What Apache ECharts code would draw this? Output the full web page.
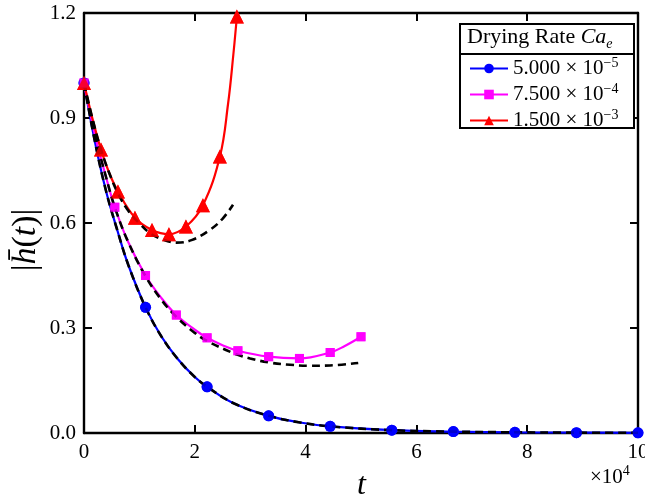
<!DOCTYPE html>
<html>
<head>
<meta charset="utf-8">
<script src="https://cdn.jsdelivr.net/npm/echarts@6/dist/echarts.min.js"></script>
<style>html,body{margin:0;padding:0;background:#fff}#c{width:645px;height:500px}</style>
</head>
<body>
<div id="c"></div>
<script>
// t in units of 10^4
const seriesNames = ['5.000 × 10⁻⁵', '7.500 × 10⁻⁴', '1.500 × 10⁻³'];
const legendMain = ['5.000 × 10', '7.500 × 10', '1.500 × 10'];
const legendSup = ['−5', '−4', '−3'];

// markers (t, |h|)
const blueMarkers = [[0,1.0],[1.111,0.359],[2.222,0.132],[3.333,0.049],[4.444,0.019],[5.556,0.008],[6.667,0.004],[7.778,0.002],[8.889,0.001],[10,0.0005]];
const blueExtra = [[0.2,0.83],[0.4,0.69],[0.6,0.58],[0.8,0.48],[1.4,0.275],[1.7,0.21],[2.0,0.16],[2.7,0.085],[3.9,0.03]];
const blueDash = [[0,1.0],[0.2,0.83],[0.4,0.69],[0.6,0.58],[0.8,0.48],[1.111,0.359],[1.4,0.275],[1.7,0.21],[2.0,0.16],[2.222,0.132],[2.7,0.085],[3.333,0.049],[3.9,0.03],[4.444,0.019],[5.556,0.008],[6.667,0.004],[7.778,0.002],[8.889,0.001],[10,0.0005]];

const magMarkers = [[0,1.0],[0.556,0.645],[1.111,0.45],[1.667,0.337],[2.222,0.272],[2.778,0.235],[3.333,0.218],[3.889,0.213],[4.444,0.23],[5.0,0.275]];
const magExtra = [[0.2,0.85],[0.4,0.73],[0.8,0.545],[1.4,0.385],[2.0,0.295],[2.5,0.251],[4.7,0.248]];
const magDash = [[0,1.0],[0.2,0.85],[0.4,0.73],[0.556,0.645],[0.8,0.545],[1.111,0.448],[1.4,0.38],[1.667,0.332],[2.0,0.286],[2.222,0.263],[2.7,0.228],[3.0,0.213],[3.36,0.201],[3.72,0.195],[4.08,0.192],[4.44,0.193],[4.95,0.2]];

const redMarkers = [[0,1.0],[0.307,0.81],[0.613,0.69],[0.92,0.615],[1.227,0.58],[1.533,0.568],[1.84,0.59],[2.147,0.651],[2.453,0.79],[2.76,1.19]];
const redExtra = [[0.15,0.9],[0.45,0.745],[2.6,0.94],[2.695,1.08]];
const redDash = [[0,1.0],[0.15,0.9],[0.307,0.81],[0.45,0.745],[0.613,0.685],[0.8,0.635],[1.0,0.599],[1.2,0.57],[1.37,0.556],[1.67,0.544],[1.94,0.551],[2.27,0.58],[2.5,0.612],[2.69,0.652]];

const colors = ['#0000ff', '#ff00ff', '#ff0000'];
const symbols = ['circle', 'rect', 'triangle'];
const symSizes = [11, 9, 14];
const markerSets = [blueMarkers, magMarkers, redMarkers];
const extraSets = [blueExtra, magExtra, redExtra];
const dashSets = [blueDash, magDash, redDash];

const FONT = 'Liberation Serif';

function merged(markers, extra) {
  const arr = markers.map(p => ({value: p}))
    .concat(extra.map(p => ({value: p, symbol: 'none'})));
  arr.sort((a, b) => a.value[0] - b.value[0]);
  return arr;
}

const series = [];
for (let i = 0; i < 3; i++) {
  series.push({
    name: seriesNames[i], type: 'line', data: merged(markerSets[i], extraSets[i]),
    smooth: 0.4, symbol: symbols[i], symbolSize: symSizes[i], showAllSymbol: true,
    lineStyle: {color: colors[i], width: 2.2}, itemStyle: {color: colors[i]},
    z: 2, clip: true
  });
}
for (let i = 0; i < 3; i++) {
  series.push({
    name: 'dash' + i, type: 'line', data: dashSets[i], smooth: 0.4, symbol: 'none',
    lineStyle: {color: '#000', width: 2.6, type: [8, 5]}, z: 3, silent: true
  });
}
for (let i = 0; i < 3; i++) {
  series.push({
    name: 'mk' + i, type: 'scatter', data: markerSets[i], symbol: symbols[i],
    symbolSize: symSizes[i], itemStyle: {color: colors[i]}, z: 4, clip: true
  });
}

const axisCommon = {
  axisLine: {show: true, onZero: false, lineStyle: {color: '#000', width: 2.4}},
  axisTick: {show: true, inside: true, length: 8, lineStyle: {color: '#000', width: 2}},
  splitLine: {show: false}
};

const chart = echarts.init(document.getElementById('c'));
chart.setOption({
  animation: false,
  backgroundColor: '#fff',
  grid: {left: 84, right: 7, top: 13, bottom: 67, outerBoundsMode: 'none', containLabel: false},
  xAxis: [
    Object.assign({type: 'value', min: 0, max: 10, interval: 2, position: 'bottom',
      axisLabel: {color: '#000', fontFamily: FONT, fontSize: 21, margin: 9}}, axisCommon),
    Object.assign({type: 'value', min: 0, max: 10, interval: 2, position: 'top',
      axisLabel: {show: false}}, axisCommon)
  ],
  yAxis: [
    Object.assign({type: 'value', min: 0, max: 1.2, interval: 0.3, position: 'left',
      axisLabel: {color: '#000', fontFamily: FONT, fontSize: 21, margin: 8,
        formatter: v => v.toFixed(1)}}, axisCommon),
    Object.assign({type: 'value', min: 0, max: 1.2, interval: 0.3, position: 'right',
      axisLabel: {show: false}}, axisCommon)
  ],
  legend: {
    data: seriesNames, orient: 'vertical', left: 464, top: 51, itemGap: 3,
    itemWidth: 38, itemHeight: 12, z: 10,
    formatter: name => {
      const i = seriesNames.indexOf(name);
      return '{m|' + legendMain[i] + '}{s|' + legendSup[i] + '}';
    },
    textStyle: {
      color: '#000', fontFamily: FONT, fontSize: 21,
      rich: {
        m: {fontFamily: FONT, fontSize: 21, color: '#000', lineHeight: 25},
        s: {fontFamily: FONT, fontSize: 14, color: '#000', verticalAlign: 'top', lineHeight: 12}
      }
    }
  },
  graphic: [
    {type: 'rect', z: 1, shape: {x: 460, y: 24, width: 174, height: 104},
      style: {fill: '#fff', stroke: '#000', lineWidth: 2}},
    {type: 'line', z: 1, shape: {x1: 460, y1: 54, x2: 634, y2: 54},
      style: {stroke: '#000', lineWidth: 2}},
    {type: 'text', z: 5, left: 467, top: 26, style: {
      text: '{n|Drying Rate }{i|Ca}{sub|e}',
      rich: {
        n: {fontFamily: FONT, fontSize: 22, fill: '#000', verticalAlign: 'bottom'},
        i: {fontFamily: FONT, fontSize: 22, fontStyle: 'italic', fill: '#000', verticalAlign: 'bottom'},
        sub: {fontFamily: FONT, fontSize: 14, fontStyle: 'italic', fill: '#000', verticalAlign: 'bottom', padding: [0, 0, -3, 0]}
      }}},
    {type: 'text', z: 5, left: 357, top: 470, style: {
      text: 't', fontFamily: FONT, fontSize: 32, fontStyle: 'italic', fill: '#000'}},
    {type: 'text', z: 5, left: 590, top: 464, style: {
      text: '{m|×10}{s|4}',
      rich: {
        m: {fontFamily: FONT, fontSize: 21, fill: '#000', lineHeight: 26},
        s: {fontFamily: FONT, fontSize: 14, fill: '#000', verticalAlign: 'top', lineHeight: 12}
      }}},
    {type: 'text', z: 5, x: 26, y: 240, rotation: Math.PI / 2, style: {
      text: '{n||}{i|h\u0304}{n|(}{i|t}{n|)|}',
      align: 'center', verticalAlign: 'middle',
      rich: {
        n: {fontFamily: FONT, fontSize: 34, fill: '#000'},
        i: {fontFamily: FONT, fontSize: 34, fontStyle: 'italic', fill: '#000'}
      }}}
  ],
  series: series
});
</script>
</body>
</html>
